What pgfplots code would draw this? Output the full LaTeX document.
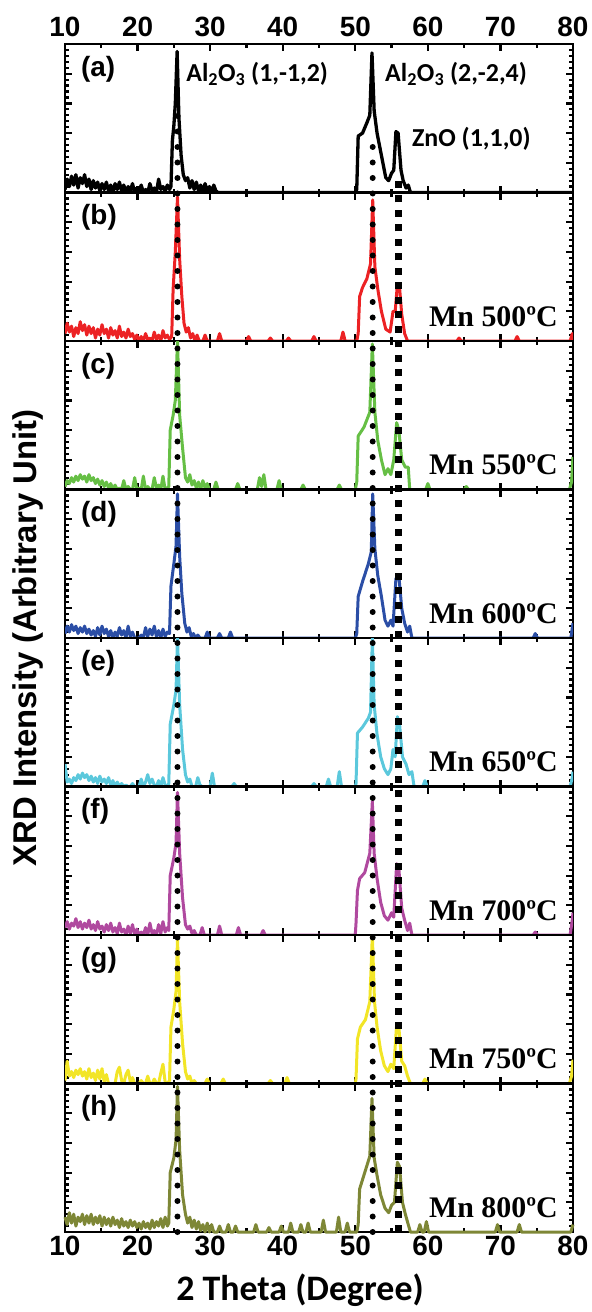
\documentclass[border=0pt]{standalone}
\usepackage{fontspec}
\setmainfont{Liberation Sans}
\newfontfamily\calib{Carlito}
\newfontfamily\timesr{Liberation Serif}
\usepackage{pgfplots}
\pgfplotsset{compat=1.18}
\usepgfplotslibrary{groupplots}
\usetikzlibrary{calc}

\definecolor{colA}{HTML}{000000}
\definecolor{colB}{HTML}{EC2224}
\definecolor{colC}{HTML}{66BF45}
\definecolor{colD}{HTML}{2B4EA6}
\definecolor{colE}{HTML}{5BC8DC}
\definecolor{colF}{HTML}{B0499F}
\definecolor{colG}{HTML}{F2E527}
\definecolor{colH}{HTML}{7E8736}

\pgfplotsset{
  xrd/.style={
    width=508bp, height=148.5bp, scale only axis,
    xmin=10, xmax=80, ymin=0, ymax=1,
    xtick={10,20,...,80}, minor x tick num=1,
    ytick={0,0.2,...,1.0}, minor y tick num=4,
    yticklabels={},
    tick align=inside,
    major tick length=7bp, minor tick length=4bp,
    tick style={line width=2.2bp, black},
    axis line style={line width=2.8bp},
    xticklabel style={font=\fontsize{28}{28}\selectfont\bfseries},
    /pgf/number format/assume math mode=true,
  },
  spec/.style={line width=3bp, line join=round},
}
\newcommand{\letfont}{\fontsize{28}{28}\selectfont\bfseries}
\newcommand{\mnfont}{\timesr\fontsize{30}{30}\selectfont\bfseries}
\newcommand{\annfont}{\calib\fontsize{26}{26}\selectfont\bfseries}
\newcommand{\panel}[1]{\node[anchor=north west, inner sep=0, xshift=16bp, yshift=-12bp, font=\letfont] at (rel axis cs:0,1) {#1};}
\newcommand{\mn}[1]{\node[anchor=base east, inner sep=0, xshift=-15bp, yshift=15bp, font=\mnfont] at (rel axis cs:1,0) {Mn #1ºC};}

\begin{document}
\begin{tikzpicture}
\begin{groupplot}[group style={group name=G, group size=1 by 8, vertical sep=0pt}, xrd]

% (a) ZnO
\nextgroupplot[xticklabel pos=upper, xtick pos=both, xticklabel style={yshift=4bp}]
\coordinate (TL) at (rel axis cs:0,1);
\addplot[spec, colA, line width=3.3bp] coordinates {(10,0.02)(10.3,0.09)(10.6,0.04)(10.9,0.11)(11.2,0.05)(11.5,0.12)(11.8,0.03)(12.1,0.10)(12.4,0.06)(12.7,0.12)(13,0.04)(13.3,0.09)(13.6,0.02)(13.9,0.08)(14.2,0.03)(14.5,0.07)(14.8,0.01)(15.1,0.06)(15.4,0.02)(15.7,0.07)(16,0.01)(16.3,0.05)(16.6,0.0)(16.9,0.06)(17.2,0.02)(17.5,0.07)(17.8,0.01)(18.1,0.05)(18.4,0.0)(18.7,0.04)(19,0.01)(19.3,0.06)(19.6,0.0)(19.9,0.03)(20.2,0.01)(20.5,0.05)(20.8,0.0)(21.1,0.02)(21.4,0.0)(21.7,0.06)(22,0.01)(22.3,0.03)(22.6,0.0)(22.9,0.09)(23.2,0.02)(23.5,0.04)(23.8,0.01)(24.1,0.05)(24.4,0.02)
(24.6,0.04)(24.8,0.35)(25.0,0.45)(25.2,0.6)(25.45,0.95)(25.7,0.5)(26.0,0.25)(26.3,0.12)(26.6,0.08)(26.9,0.1)(27.2,0.03)(27.5,0.08)(27.8,0.02)(28.1,0.07)(28.4,0.01)(28.7,0.05)(29,0.0)(29.3,0.06)(29.6,0.01)(29.9,0.04)(30.2,0.0)(30.5,0.05)(30.8,0.01)(31.1,0.0)(50,0)
(50.2,0.02)(50.4,0.38)(51.0,0.40)(51.6,0.47)(52.0,0.52)(52.3,0.94)(52.6,0.55)(53.0,0.4)(53.6,0.25)(54.2,0.1)(54.6,0.08)(55.0,0.13)(55.3,0.15)(55.6,0.41)(55.9,0.4)(56.3,0.15)(56.6,0.08)(57.0,0.03)(57.3,0.05)(57.6,0.0)(80,0)};
\panel{(a)}
\node[anchor=west, inner sep=0, font=\annfont] at (axis cs:26.7,0.8) {Al\textsubscript{2}O\textsubscript{3} (1,-1,2)};
\node[anchor=west, inner sep=0, font=\annfont] at (axis cs:54.1,0.8) {Al\textsubscript{2}O\textsubscript{3} (2,-2,4)};
\node[anchor=west, inner sep=0, font=\annfont] at (axis cs:57.8,0.36) {ZnO (1,1,0)};

% (b) Mn 500
\nextgroupplot[xticklabels={}]
\addplot[spec, colB] coordinates {(10,0.05)(10.3,0.12)(10.6,0.06)(10.9,0.10)(11.2,0.03)(11.5,0.09)(11.8,0.05)(12.1,0.13)(12.4,0.07)(12.7,0.11)(13,0.04)(13.3,0.10)(13.6,0.05)(13.9,0.09)(14.2,0.02)(14.5,0.08)(14.8,0.04)(15.1,0.11)(15.4,0.05)(15.7,0.08)(16,0.02)(16.3,0.09)(16.6,0.04)(16.9,0.07)(17.2,0.02)(17.5,0.10)(17.8,0.03)(18.1,0.06)(18.4,0.02)(18.7,0.08)(19,0.03)(19.3,0.05)(19.6,0.01)(19.9,0.04)(20.2,0.0)(20.5,0.03)(20.8,0.0)(21.1,0.05)(21.4,0.01)(21.7,0.02)(22,0.0)(22.3,0.06)(22.6,0.01)(22.9,0.04)(23.2,0.0)(23.5,0.07)(23.8,0.02)(24.1,0.04)(24.4,0.01)
(24.7,0.03)(24.9,0.35)(25.2,0.6)(25.5,0.97)(25.8,0.55)(26.1,0.3)(26.4,0.12)(26.7,0.06)(27.0,0.09)(27.3,0.02)(27.6,0.05)(27.9,0.0)(28.2,0.04)(28.5,0.0)(29.0,0.0)(29.3,0.04)(29.6,0.0)(31,0)(31.3,0.05)(31.6,0)(35,0)(35.3,0.03)(35.6,0)(38,0)(38.3,0.02)(38.6,0)(40.5,0)(40.8,0.02)(41.1,0)(44,0)(44.3,0.03)(44.6,0)(48,0)(48.3,0.06)(48.6,0)(50.2,0)
(50.4,0.05)(50.6,0.3)(51.0,0.36)(51.6,0.42)(52.1,0.52)(52.4,0.95)(52.7,0.5)(53.1,0.35)(53.6,0.2)(54.2,0.08)(54.8,0.06)(55.2,0.2)(55.5,0.2)(55.8,0.38)(56.1,0.36)(56.4,0.18)(56.8,0.05)(57.2,0.0)(64,0)(64.3,0.02)(64.6,0)(72,0)(72.3,0.03)(72.6,0)(79.6,0)(79.9,0.05)(80,0)};
\panel{(b)}
\mn{500}

% (c) Mn 550
\nextgroupplot[xticklabels={}]
\addplot[spec, colC] coordinates {(10,0.02)(10.3,0.06)(10.6,0.04)(10.9,0.08)(11.2,0.05)(11.5,0.09)(11.8,0.06)(12.1,0.10)(12.4,0.07)(12.7,0.09)(13,0.05)(13.3,0.10)(13.6,0.06)(13.9,0.08)(14.2,0.04)(14.5,0.07)(14.8,0.03)(15.1,0.06)(15.4,0.02)(15.7,0.05)(16,0.01)(16.3,0.04)(16.6,0.0)(16.9,0.03)(17.2,0.0)(17.5,0.01)(17.8,0.0)(18.1,0.06)(18.4,0.0)(18.7,0.02)(19,0.0)(19.3,0.0)(19.6,0.08)(19.9,0.0)(20.2,0.01)(20.5,0.0)(20.8,0.09)(21.1,0.0)(21.4,0.02)(21.7,0.0)(22,0.0)(22.3,0.08)(22.6,0.01)(22.9,0.03)(23.2,0.0)(23.5,0.09)(23.8,0.0)(24.1,0.01)
(24.3,0.02)(24.5,0.4)(24.9,0.5)(25.2,0.6)(25.5,1.0)(25.8,0.5)(26.2,0.28)(26.6,0.08)(26.9,0.05)(27.2,0.1)(27.5,0.03)(27.8,0.06)(28.1,0.01)(28.4,0.05)(28.7,0.0)(29.0,0.06)(29.3,0.01)(29.6,0.04)(29.9,0.0)(30.5,0.0)(30.8,0.05)(31.1,0.0)(33.5,0)(33.8,0.04)(34.1,0)(36.5,0)(36.8,0.08)(37.1,0.02)(37.4,0.1)(37.7,0.0)(39.2,0)(39.5,0.06)(39.8,0.0)(42.5,0)(42.8,0.03)(43.1,0)(47.5,0)(47.8,0.03)(48.1,0)(50.0,0)
(50.2,0.05)(50.4,0.36)(51.2,0.42)(52.0,0.52)(52.35,0.98)(52.7,0.52)(53.1,0.33)(53.6,0.2)(54.1,0.1)(54.5,0.14)(54.9,0.1)(55.3,0.2)(55.7,0.45)(56.0,0.4)(56.4,0.2)(56.9,0.15)(57.3,0.15)(57.5,0.0)(59.7,0)(60.0,0.04)(60.3,0)(65,0)(65.3,0.02)(65.6,0)(79.5,0)(79.8,0.05)(80,0.22)};
\panel{(c)}
\mn{550}

% (d) Mn 600
\nextgroupplot[xticklabels={}]
\addplot[spec, colD] coordinates {(10,0.03)(10.3,0.08)(10.6,0.04)(10.9,0.09)(11.2,0.05)(11.5,0.08)(11.8,0.03)(12.1,0.07)(12.4,0.04)(12.7,0.08)(13,0.03)(13.3,0.06)(13.6,0.02)(13.9,0.05)(14.2,0.01)(14.5,0.07)(14.8,0.02)(15.1,0.08)(15.4,0.03)(15.7,0.06)(16,0.01)(16.3,0.05)(16.6,0.0)(16.9,0.04)(17.2,0.01)(17.5,0.07)(17.8,0.02)(18.1,0.05)(18.4,0.0)(18.7,0.08)(19,0.01)(19.3,0.04)(19.6,0.0)(19.9,0.0)(20.2,0.0)(20.5,0.02)(20.8,0.0)(21.1,0.07)(21.4,0.01)(21.7,0.06)(22,0.02)(22.3,0.08)(22.6,0.01)(22.9,0.05)(23.2,0.0)(23.5,0.06)(23.8,0.01)(24.1,0.04)
(24.4,0.03)(24.6,0.35)(25.0,0.5)(25.3,0.62)(25.5,0.97)(25.8,0.55)(26.1,0.3)(26.5,0.1)(26.8,0.04)(27.1,0.07)(27.4,0.01)(27.7,0.03)(28.0,0.0)(28.3,0.02)(28.6,0.0)(29.3,0)(29.6,0.04)(29.9,0.0)(31,0)(31.3,0.03)(31.6,0)(32.5,0)(32.8,0.04)(33.1,0)(50.0,0)
(50.2,0.03)(50.4,0.28)(51.0,0.38)(51.8,0.5)(52.2,0.58)(52.4,0.97)(52.7,0.6)(53.1,0.42)(53.6,0.28)(54.1,0.12)(54.5,0.08)(54.9,0.12)(55.2,0.08)(55.6,0.4)(56.0,0.42)(56.4,0.2)(56.8,0.1)(57.2,0.04)(57.5,0.08)(57.8,0.0)(74.5,0)(74.8,0.03)(75.1,0)(79.7,0)(80,0.1)};
\panel{(d)}
\mn{600}

% (e) Mn 650
\nextgroupplot[xticklabels={}]
\addplot[spec, colE] coordinates {(10,0.15)(10.3,0.03)(10.6,0.05)(10.9,0.02)(11.2,0.06)(11.5,0.04)(11.8,0.08)(12.1,0.05)(12.4,0.09)(12.7,0.06)(13,0.08)(13.3,0.04)(13.6,0.07)(13.9,0.03)(14.2,0.06)(14.5,0.02)(14.8,0.07)(15.1,0.03)(15.4,0.05)(15.7,0.02)(16,0.06)(16.3,0.01)(16.6,0.04)(16.9,0.0)(17.2,0.03)(17.5,0.0)(17.8,0.02)(18.1,0.0)(18.4,0.01)(18.7,0.0)(19,0.0)(19.3,0.02)(19.6,0.0)(20.2,0.0)(20.5,0.05)(20.8,0.0)(21.1,0.03)(21.4,0.08)(21.7,0.02)(22,0.05)(22.3,0.01)(22.6,0.0)(22.9,0.04)(23.2,0.0)(23.5,0.06)(23.8,0.01)(24.1,0.0)
(24.3,0.02)(24.5,0.42)(25.0,0.55)(25.3,0.65)(25.5,1.0)(25.8,0.55)(26.2,0.25)(26.6,0.08)(26.9,0.03)(27.2,0.05)(27.5,0.0)(28.0,0.0)(28.3,0.06)(28.6,0.01)(28.9,0.0)(30.0,0)(30.3,0.09)(30.6,0.0)(33,0)(33.3,0.02)(33.6,0)(44,0)(44.3,0.02)(44.6,0)(46,0)(46.3,0.05)(46.6,0)(47.5,0)(47.8,0.1)(48.1,0)(50,0)
(50.1,0.02)(50.3,0.36)(51.0,0.4)(51.8,0.46)(52.1,0.5)(52.35,1.0)(52.6,0.55)(53.0,0.35)(53.5,0.2)(54.0,0.12)(54.5,0.08)(54.9,0.12)(55.2,0.25)(55.5,0.2)(55.8,0.47)(56.1,0.42)(56.5,0.2)(57.0,0.15)(57.4,0.08)(57.8,0.1)(58.1,0.0)(59.3,0)(59.6,0.04)(59.9,0)(79.6,0)(79.9,0.06)(80,0.1)};
\panel{(e)}
\mn{650}
\coordinate (ML) at (rel axis cs:0,1);

% (f) Mn 700
\nextgroupplot[xticklabels={}]
\addplot[spec, colF] coordinates {(10,0.05)(10.3,0.09)(10.6,0.04)(10.9,0.08)(11.2,0.06)(11.5,0.11)(11.8,0.05)(12.1,0.09)(12.4,0.04)(12.7,0.08)(13,0.05)(13.3,0.1)(13.6,0.04)(13.9,0.07)(14.2,0.03)(14.5,0.09)(14.8,0.04)(15.1,0.06)(15.4,0.02)(15.7,0.07)(16,0.03)(16.3,0.08)(16.6,0.02)(16.9,0.05)(17.2,0.01)(17.5,0.08)(17.8,0.02)(18.1,0.04)(18.4,0.0)(18.7,0.06)(19,0.01)(19.3,0.07)(19.6,0.0)(19.9,0.04)(20.2,0.0)(20.5,0.02)(20.8,0.0)(21.1,0.05)(21.4,0.0)(21.7,0.08)(22,0.01)(22.3,0.03)(22.6,0.0)(22.9,0.07)(23.2,0.01)(23.5,0.09)(23.8,0.02)(24.1,0.05)
(24.3,0.03)(24.5,0.4)(25.0,0.52)(25.3,0.62)(25.5,0.96)(25.8,0.55)(26.2,0.25)(26.6,0.07)(26.9,0.04)(27.2,0.06)(27.5,0.01)(27.8,0.03)(28.1,0.0)(28.6,0.0)(28.9,0.05)(29.2,0.0)(31,0)(31.3,0.06)(31.6,0)(33.6,0)(33.9,0.05)(34.2,0)(37,0)(37.3,0.03)(37.6,0)(50,0)
(50.1,0.08)(50.3,0.3)(50.6,0.38)(51.3,0.42)(52.0,0.55)(52.35,0.9)(52.6,0.55)(53.0,0.38)(53.5,0.22)(54.0,0.13)(54.5,0.1)(55.0,0.15)(55.3,0.12)(55.7,0.48)(56.0,0.45)(56.4,0.18)(56.8,0.1)(57.2,0.03)(57.5,0.08)(57.8,0.0)(74.5,0)(74.8,0.02)(75.1,0)(79.6,0)(79.9,0.1)(80,0.15)};
\panel{(f)}
\mn{700}

% (g) Mn 750
\nextgroupplot[xticklabels={}]
\addplot[spec, colG] coordinates {(10,0.02)(10.3,0.15)(10.6,0.05)(10.9,0.08)(11.2,0.04)(11.5,0.09)(11.8,0.06)(12.1,0.1)(12.4,0.05)(12.7,0.08)(13,0.03)(13.3,0.1)(13.6,0.04)(13.9,0.07)(14.2,0.02)(14.5,0.09)(14.8,0.03)(15.1,0.1)(15.4,0.01)(15.7,0.06)(16,0.0)(16.3,0.0)(16.6,0.0)(16.9,0.0)(17.2,0.08)(17.5,0.11)(17.8,0.02)(18.1,0.0)(18.4,0.06)(18.7,0.09)(19,0.01)(19.3,0.04)(19.6,0.0)(20.2,0.0)(20.5,0.02)(20.8,0.0)(21.1,0.0)(21.4,0.05)(21.7,0.0)(22,0.0)(22.3,0.03)(22.6,0.0)(22.9,0.0)(23.2,0.07)(23.5,0.13)(23.8,0.01)(24.1,0.0)
(24.4,0.02)(24.6,0.38)(25.0,0.5)(25.3,0.62)(25.5,0.97)(25.8,0.55)(26.2,0.27)(26.6,0.08)(26.9,0.03)(27.2,0.05)(27.5,0.0)(27.8,0.02)(28.1,0.0)(29.3,0)(29.6,0.03)(29.9,0)(31.5,0)(31.8,0.03)(32.1,0)(38,0)(38.3,0.02)(38.6,0)(40.3,0)(40.6,0.04)(40.9,0)(50,0)
(50.1,0.03)(50.3,0.3)(50.7,0.38)(51.4,0.43)(52.0,0.55)(52.35,1.0)(52.65,0.55)(53.0,0.38)(53.5,0.22)(54.0,0.12)(54.5,0.08)(54.9,0.13)(55.3,0.1)(55.7,0.4)(56.0,0.38)(56.4,0.15)(56.8,0.12)(57.2,0.05)(57.6,0.0)(59.3,0)(59.6,0.03)(59.9,0)(79.5,0)(79.8,0.05)(80,0.16)};
\panel{(g)}
\mn{750}

% (h) Mn 800
\nextgroupplot[clip=false]
\addplot[spec, colH] coordinates {(10,0.1)(10.3,0.05)(10.6,0.13)(10.9,0.06)(11.2,0.12)(11.5,0.04)(11.8,0.1)(12.1,0.07)(12.4,0.12)(12.7,0.05)(13,0.11)(13.3,0.06)(13.6,0.12)(13.9,0.05)(14.2,0.1)(14.5,0.06)(14.8,0.11)(15.1,0.04)(15.4,0.1)(15.7,0.05)(16,0.09)(16.3,0.04)(16.6,0.1)(16.9,0.05)(17.2,0.08)(17.5,0.03)(17.8,0.09)(18.1,0.04)(18.4,0.07)(18.7,0.03)(19,0.08)(19.3,0.04)(19.6,0.07)(19.9,0.03)(20.2,0.06)(20.5,0.02)(20.8,0.07)(21.1,0.03)(21.4,0.06)(21.7,0.02)(22,0.08)(22.3,0.03)(22.6,0.07)(22.9,0.04)(23.2,0.09)(23.5,0.03)(23.8,0.1)(24.1,0.04)
(24.3,0.06)(24.5,0.4)(25.0,0.5)(25.3,0.62)(25.5,0.98)(25.8,0.55)(26.2,0.25)(26.6,0.12)(26.9,0.06)(27.2,0.1)(27.5,0.03)(27.8,0.08)(28.1,0.02)(28.4,0.07)(28.7,0.01)(29.0,0.05)(29.3,0.0)(29.6,0.06)(29.9,0.0)(30.2,0.05)(30.5,0.0)(31,0)(31.3,0.04)(31.6,0)(32.2,0)(32.5,0.05)(32.8,0)(33.2,0)(33.5,0.04)(33.8,0)(36,0)(36.3,0.05)(36.6,0)(37.8,0)(38.1,0.03)(38.4,0)(39.5,0)(39.8,0.04)(40.1,0)(40.8,0)(41.1,0.06)(41.4,0)(42.2,0)(42.5,0.05)(42.8,0)(43.2,0)(43.5,0.06)(43.8,0)(45.3,0)(45.6,0.08)(45.9,0)(47.4,0)(47.7,0.1)(48.0,0)(48.6,0)(48.9,0.06)(49.2,0)(50.2,0)
(50.4,0.05)(50.6,0.29)(51.3,0.4)(52.0,0.51)(52.3,0.9)(52.6,0.5)(53.0,0.38)(53.5,0.25)(54.1,0.16)(54.6,0.13)(55.0,0.18)(55.4,0.2)(55.8,0.47)(56.1,0.44)(56.5,0.2)(56.9,0.12)(57.3,0.05)(57.6,0.0)(58.6,0)(58.9,0.05)(59.2,0)(59.5,0)(59.8,0.07)(60.1,0)(69.3,0)(69.6,0.05)(69.9,0)(72.3,0)(72.6,0.05)(72.9,0)(79.7,0)(80,0.05)};
\panel{(h)}
\mn{800}
% reference lines through all panels (panel a spans y = 7..8 here)
\addplot[black, line width=6bp, line cap=round, dash pattern=on 0bp off 15.5bp] coordinates {(25.5,0) (25.5,7.6)};
\addplot[black, line width=6bp, line cap=round, dash pattern=on 0bp off 15.5bp] coordinates {(52.4,0) (52.4,7.33)};
\addplot[black, line width=7bp, dash pattern=on 7bp off 7.5bp] coordinates {(56.0,0) (56.0,7.08)};
\coordinate (BR) at (rel axis cs:1,0);
\node[font=\calib\fontsize{36}{36}\selectfont\bfseries] at ($(rel axis cs:0.5,0)+(-19bp,-58bp)$) {2 Theta (Degree)};
\end{groupplot}
\node[rotate=90, font=\fontsize{33}{33}\selectfont\bfseries] at ($(ML)+(-37.5bp,0bp)$) {XRD Intensity (Arbitrary Unit)};
\pgfresetboundingbox
\path[use as bounding box] ($(TL)+(-65bp,44bp)$) rectangle ($(BR)+(19bp,-80bp)$);
\end{tikzpicture}
\end{document}
